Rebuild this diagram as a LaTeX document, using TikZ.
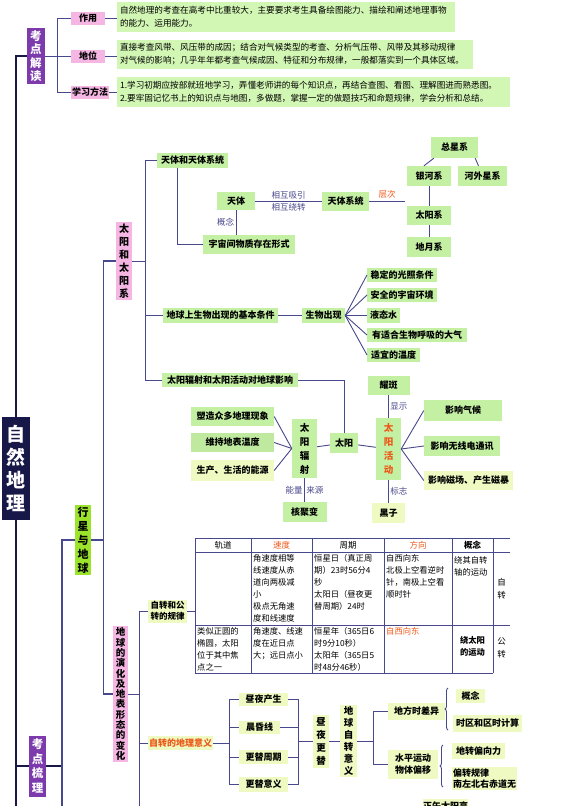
\documentclass[tikz,border=0pt]{standalone}
\usepackage{fontspec}
\setmainfont{Noto Sans CJK SC}
\usetikzlibrary{decorations.pathreplacing}
\definecolor{boxgreen}{RGB}{196,240,164}
\definecolor{textgreen}{RGB}{210,246,180}
\definecolor{paleyellow}{RGB}{238,250,194}
\definecolor{boxpink}{RGB}{246,182,228}
\definecolor{boxpurple}{RGB}{124,58,172}
\definecolor{titlenavy}{RGB}{24,24,72}
\definecolor{boxlime}{RGB}{156,228,44}
\definecolor{linenavy}{RGB}{72,72,140}
\definecolor{hotorange}{RGB}{236,88,24}

\begin{document}
\begin{tikzpicture}[x=1pt,y=-1pt,
  link/.style={linenavy, line width=0.9pt},
  mid/.style={linenavy, line width=1.3pt},
  trunk/.style={titlenavy, line width=2.4pt},
  grid/.style={linenavy, line width=0.6pt},
  gbox/.style={fill=boxgreen, inner sep=0pt, font=\fontsize{9}{11}\selectfont\bfseries},
  ybox/.style={fill=paleyellow, inner sep=0pt, font=\fontsize{9}{11}\selectfont\bfseries},
  pbox/.style={fill=boxpink, inner sep=0pt, font=\fontsize{9}{11}\selectfont\bfseries},
  tbox/.style={fill=textgreen, inner xsep=3pt, inner ysep=0pt, align=left, font=\fontsize{8.6}{13}\selectfont},
  vbox/.style={inner sep=0pt, align=center},
  lbl/.style={inner sep=1.5pt, font=\fontsize{8.5}{10}\selectfont},
  cell/.style={anchor=north west, inner sep=0pt, align=left, font=\fontsize{8.3}{12}\selectfont},
  hd/.style={inner sep=0pt, font=\fontsize{8.5}{10}\selectfont}]
\useasboundingbox (0,0) rectangle (569,806);

% 考点解读
\node[vbox, fill=boxpurple, text=white, minimum width=18, minimum height=56, font=\fontsize{11.5}{13.5}\selectfont\bfseries] (jiedu) at (36,56) {考\\点\\解\\读};
\node[pbox, minimum width=34, minimum height=13] (zuoyong) at (88,18) {作用};
\node[pbox, minimum width=34, minimum height=13] (diwei) at (88,56) {地位};
\node[pbox, minimum width=38, minimum height=13] (fangfa) at (90,92) {学习方法};
\node[tbox, text width=332, minimum height=30] (zuoyongtxt) at (286,17) {自然地理的考查在高考中比重较大，主要要求考生具备绘图能力、描绘和阐述地理事物\\的能力、运用能力。};
\node[tbox, text width=350, minimum height=29] (diweitxt) at (295,54) {直接考查风带、风压带的成因；结合对气候类型的考查、分析气压带、风带及其移动规律\\对气候的影响；几乎年年都考查气候成因、特征和分布规律，一般都落实到一个具体区域。};
\node[tbox, text width=387, minimum height=30] (fangfatxt) at (313.5,92) {1.学习初期应按部就班地学习，弄懂老师讲的每个知识点，再结合查图、看图、理解图进而熟悉图。\\2.要牢固记忆书上的知识点与地图，多做题，掌握一定的做题技巧和命题规律，学会分析和总结。};
\draw[link] (zuoyong.west) -- ++(-13,0) |- (fangfa.west);
\draw[link] (jiedu.east) -- (diwei.west);
\draw[link] (zuoyong.east) -- (zuoyong.east -| zuoyongtxt.west);
\draw[link] (diwei.east) -- (diwei.east -| diweitxt.west);
\draw[link] (fangfa.east) -- (fangfa.east -| fangfatxt.west);

% trunk
\node[vbox, fill=titlenavy, text=white, minimum width=28, minimum height=103, font=\fontsize{19}{23}\selectfont\bfseries] (title) at (16,468.5) {自\\然\\地\\理};
\node[vbox, fill=boxpurple, text=white, minimum width=17, minimum height=61, font=\fontsize{11.5}{14.5}\selectfont\bfseries] (shuli) at (37.5,766) {考\\点\\梳\\理};
\coordinate (trunkend) at (16,812);
\coordinate (sj) at (62,766);
\coordinate (sbot) at (62,812);
\draw[trunk] (jiedu.west) -| (title.north);
\draw[trunk] (title.south) -- (trunkend);
\draw[trunk] (shuli.west -| title.south) -- (shuli.west);
\draw[trunk] (shuli.east) -- (sj);

\node[vbox, fill=boxlime, minimum width=16, minimum height=70, font=\fontsize{11}{14}\selectfont\bfseries] (xingxing) at (83,540) {行\\星\\与\\地\\球};
\node[vbox, fill=boxpink, minimum width=16, minimum height=78, font=\fontsize{10}{13}\selectfont\bfseries] (taiyangxi) at (124,261) {太\\阳\\和\\太\\阳\\系};
\node[vbox, fill=boxpink, minimum width=15, minimum height=136, font=\fontsize{9.5}{10.3}\selectfont\bfseries] (yanhua) at (120.5,694) {地\\球\\的\\演\\化\\及\\地\\表\\形\\态\\的\\变\\化};
\coordinate (xj) at (104,540);
\draw[mid] (xingxing.west) -| (sbot);
\draw[mid] (xingxing.east) -- (xj);
\draw[mid] (taiyangxi.west) -- ++(-12,0) |- (yanhua.west);

% 太阳和太阳系
\node[gbox, minimum width=71, minimum height=15] (tiantixt) at (192.5,160) {天体和天体系统};
\node[gbox, minimum width=38, minimum height=18] (tianti) at (236,201) {天体};
\node[gbox, minimum width=92, minimum height=19] (yuzhou) at (249,244.5) {宇宙间物质存在形式};
\node[gbox, minimum width=47, minimum height=19] (tiantisys) at (345.5,201) {天体系统};
\node[gbox, minimum width=47, minimum height=21] (zongxing) at (454.5,147.5) {总星系};
\node[gbox, minimum width=44, minimum height=20] (yinhe) at (429,176) {银河系};
\node[gbox, minimum width=49, minimum height=20] (hewai) at (482.5,176) {河外星系};
\node[gbox, minimum width=44, minimum height=19] (tyx) at (429,215.5) {太阳系};
\node[gbox, minimum width=44, minimum height=20] (diyue) at (429,247) {地月系};
\coordinate (tj) at (145,261);
\coordinate (cengci) at (405,201);
\draw[link] (taiyangxi.east) -- (tj);
\draw[link] (tiantixt.west) -| (tj);
\draw[link] ([xshift=-15.5pt]tiantixt.south) |- (yuzhou.west);
\draw[link] (tianti) -- (tianti |- yuzhou.north) node[lbl, midway, left] {概念};
\draw[link] (tianti.east) -- (tiantisys.west)
  node[lbl, midway, above] {相互吸引} node[lbl, midway, below] {相互绕转};
\draw[link] (tiantisys.east) -- (cengci)
  node[lbl, midway, above, text=hotorange, yshift=1pt] {层次};
\draw[link] ([xshift=3pt]zongxing.south west) -- ([xshift=-5pt]yinhe.north);
\draw[link] ([xshift=-3pt]zongxing.south east) -- ([xshift=-4pt]hewai.north);
\draw[link] (yinhe) -- (tyx);
\draw[link] (tyx) -- (diyue);

% 生物出现
\node[gbox, minimum width=115, minimum height=15] (dqsw) at (220.5,315.5) {地球上生物出现的基本条件};
\node[gbox, minimum width=43, minimum height=15] (swcx) at (323.5,315.5) {生物出现};
\node[gbox, anchor=west, minimum width=70, minimum height=14] (gz) at (367,275) {稳定的光照条件};
\node[gbox, anchor=west, minimum width=70, minimum height=14] (hj) at (367,295) {安全的宇宙环境};
\node[gbox, anchor=west, minimum width=33, minimum height=15] (ys) at (367,315.5) {液态水};
\node[gbox, anchor=west, minimum width=100, minimum height=14] (dq) at (367,335) {有适合生物呼吸的大气};
\node[gbox, anchor=west, minimum width=53, minimum height=14] (wd) at (367,355) {适宜的温度};
\draw[link] (dqsw.west) -- (dqsw.west -| tj);
\draw[link] (dqsw) -- (swcx);
\foreach \n in {gz,hj,ys,dq,wd}
  \draw[link] (swcx.east) -- (\n.west);

% 太阳辐射和太阳活动
\node[gbox, minimum width=136, minimum height=14] (fushe) at (230,380) {太阳辐射和太阳活动对地球影响};
\node[gbox, minimum width=28, minimum height=20] (taiyang) at (344,443) {太阳};
\node[vbox, fill=boxgreen, minimum width=25, minimum height=59, font=\fontsize{9.5}{14}\selectfont\bfseries] (tyfs) at (304.5,448.5) {太\\阳\\辐\\射};
\node[vbox, fill=boxgreen, text=hotorange, minimum width=25, minimum height=62, font=\fontsize{9.5}{14}\selectfont\bfseries] (tyhd) at (388.5,449) {太\\阳\\活\\动};
\node[gbox, minimum width=83, minimum height=19] (suzao) at (232.5,416.5) {塑造众多地理现象};
\node[gbox, fill=boxgreen!85!black!20!boxgreen, minimum width=83, minimum height=19] (weichi) at (232.5,442.5) {维持地表温度};
\node[ybox, minimum width=83, minimum height=21] (nengyuan) at (232.5,470.5) {生产、生活的能源};
\node[gbox, minimum width=44, minimum height=20] (hejubian) at (304.5,512) {核聚变};
\node[gbox, minimum width=42, minimum height=19] (yaoban) at (388.5,385.5) {耀斑};
\node[ybox, minimum width=33, minimum height=20] (heizi) at (388.5,513) {黑子};
\node[gbox, minimum width=78, minimum height=21] (qihou) at (463,410.5) {影响气候};
\node[gbox, minimum width=76, minimum height=20] (tongxun) at (462,446) {影响无线电通讯};
\node[ybox, minimum width=89, minimum height=19] (cibao) at (468.5,480.5) {影响磁场、产生磁暴};
\draw[link] (fushe.west) -| (tj);
\draw[link] (fushe.east) -| (taiyang.north);
\draw[link] (tyfs) -- (taiyang);
\draw[link] (taiyang) -- (tyhd);
\foreach \n in {suzao,weichi,nengyuan}
  \draw[link] (\n.east) -- (tyfs.west);
\draw[link] (tyfs) -- (hejubian)
  node[lbl, midway, left] {能量} node[lbl, midway, right] {来源};
\draw[link] (yaoban) -- (tyhd) node[lbl, midway, right] {显示};
\draw[link] (tyhd) -- (heizi) node[lbl, midway, right] {标志};
\foreach \n in {qihou,tongxun,cibao}
  \draw[link] (tyhd.east) -- (\n.west);

% 自转和公转的规律
\node[ybox, align=left, minimum width=39, minimum height=23, font=\fontsize{8.5}{10.5}\selectfont\bfseries] (guilv) at (167.5,611) {自转和公\\转的规律};
\coordinate (yj) at (139,812);
\coordinate (tbl) at (195,611);
\draw[link] (guilv.west) -| (yj);
\draw[link] (yanhua.east) -- (yanhua.east -| yj);
\draw[link] (guilv.east) -- (tbl);
\draw[grid] (195,538) -- (510,538);
\draw[grid] (195,552) -- (510,552);
\draw[grid] (195,625) -- (510,625);
\draw[grid] (195,673) -- (493,673);
\foreach \x in {195,251,312,384,452,493}
  \draw[grid] (\x,538) -- (\x,673);
\node[hd] (h1) at (223,545) {轨道};
\node[hd, text=hotorange] (h2) at (281.5,545) {速度};
\node[hd] (h3) at (348,545) {周期};
\node[hd, text=hotorange] (h4) at (418,545) {方向};
\node[hd, font=\fontsize{8.5}{10}\selectfont\bfseries] (h5) at (472.5,545) {概念};
\node[cell] (c12) at (253,554) {角速度相等\\线速度从赤\\道向两极减\\小\\极点无角速\\度和线速度};
\node[cell] (c13) at (314,554) {恒星日（真正周\\期）23时56分4\\秒\\太阳日（昼夜更\\替周期）24时};
\node[cell] (c14) at (386,554) {自西向东\\北极上空看逆时\\针，南极上空看\\顺时针};
\node[cell] (c15) at (454,556) {绕其自转\\轴的运动};
\node[hd, align=center, font=\fontsize{8.5}{12.5}\selectfont] (c16) at (501.5,589) {自\\转};
\node[cell] (c21) at (197,627) {类似正圆的\\椭圆，太阳\\位于其中焦\\点之一};
\node[cell] (c22) at (253,627) {角速度、线速\\度在近日点\\大；远日点小};
\node[cell] (c23) at (314,627) {恒星年（365日6\\时9分10秒）\\太阳年（365日5\\时48分46秒）};
\node[cell, text=hotorange] (c24) at (386,627) {自西向东};
\node[hd, align=center, font=\fontsize{8.3}{12}\selectfont\bfseries] (c25) at (472.5,646) {绕太阳\\的运动};
\node[hd, align=center, font=\fontsize{8.5}{12.5}\selectfont] (c26) at (501.5,648) {公\\转};

% 自转的地理意义
\node[ybox, text=hotorange, minimum width=65, minimum height=14] (yiyi) at (180.5,743) {自转的地理意义};
\node[ybox, minimum width=49, minimum height=13] (zy1) at (263.5,699.5) {昼夜产生};
\node[ybox, minimum width=41, minimum height=13] (zy2) at (259.5,727.5) {晨昏线};
\node[ybox, minimum width=49, minimum height=14] (zy3) at (263.5,757) {更替周期};
\node[ybox, minimum width=49, minimum height=15] (zy4) at (263.5,784.5) {更替意义};
\node[vbox, fill=paleyellow, minimum width=16, minimum height=53, font=\fontsize{9.5}{13}\selectfont\bfseries] (zhouye) at (321,741) {昼\\夜\\更\\替};
\node[vbox, fill=paleyellow, minimum width=17, minimum height=72, font=\fontsize{9.5}{12}\selectfont\bfseries] (zizhuan) at (348.5,741) {地\\球\\自\\转\\意\\义};
\node[ybox, minimum width=57, minimum height=17] (dfs) at (416.5,711.5) {地方时差异};
\node[ybox, align=center, minimum width=50, minimum height=29, font=\fontsize{9}{12.5}\selectfont\bfseries] (piany) at (413,764) {水平运动\\物体偏移};
\node[ybox, minimum width=29, minimum height=14] (gainian) at (470.5,696) {概念};
\node[ybox, minimum width=69, minimum height=17] (shiqu) at (487.5,723.5) {时区和区时计算};
\node[ybox, minimum width=53, minimum height=16] (dizhuan) at (478.5,751) {地转偏向力};
\node[ybox, align=left, minimum width=65, minimum height=23, font=\fontsize{9}{11.5}\selectfont\bfseries] (guilv2) at (484.5,778.5) {偏转规律\\南左北右赤道无};
\node[ybox, anchor=north west, minimum height=14] (zhengwu) at (423,799) {正午太阳高};
\coordinate (rb) at (298,741);
\coordinate (rb2) at (373,741);
\draw[link] (yiyi.west) -- (yiyi.west -| yj);
\draw[link] (zy1.west) -- ++(-9,0) |- (zy4.west);
\draw[link] (zy2.west) -- ++(-9,0);
\draw[link] (zy3.west) -- ++(-9,0);
\draw[link] (yiyi.east) -- ++(17,0);
\draw[link] (zy1.east) -| (rb);
\draw[link] (zy4.east) -| (rb);
\draw[link] (zy2.east) -- (zy2.east -| rb);
\draw[link] (zy3.east) -- (zy3.east -| rb);
\draw[link] (rb) -- (zhouye.west);
\draw[link] (zhouye) -- (zizhuan);
\draw[link] (zizhuan.east) -- (rb2);
\draw[link] (dfs.west) -| (rb2);
\draw[link] (piany.west) -| (rb2);
\draw[link, decorate, decoration={brace, amplitude=3pt}] (448,730) -- (448,688);
\draw[link, decorate, decoration={brace, amplitude=3pt}] (443,787) -- (443,745);
\end{tikzpicture}
\end{document}
